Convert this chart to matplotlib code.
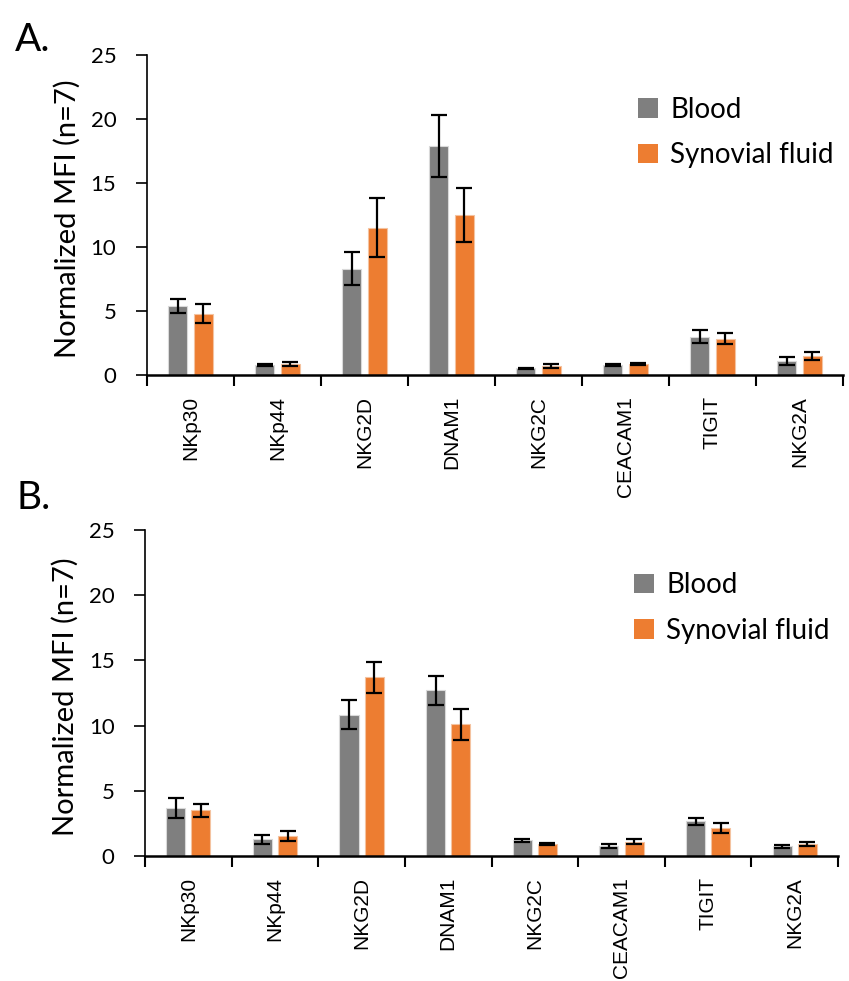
import matplotlib
matplotlib.use("Agg")
import matplotlib.pyplot as plt
import numpy as np
from matplotlib.patches import Patch

categories = ["NKp30", "NKp44", "NKG2D", "DNAM1", "NKG2C", "CEACAM1", "TIGIT", "NKG2A"]

# panel A
a_blood = [5.4, 0.78, 8.3, 17.9, 0.52, 0.8, 3.0, 1.1]
a_blood_err = [0.55, 0.1, 1.3, 2.4, 0.05, 0.1, 0.5, 0.3]
a_syn = [4.8, 0.86, 11.5, 12.5, 0.73, 0.86, 2.85, 1.5]
a_syn_err = [0.75, 0.12, 2.3, 2.1, 0.15, 0.1, 0.45, 0.3]

# panel B
b_blood = [3.7, 1.28, 10.85, 12.7, 1.2, 0.8, 2.65, 0.75]
b_blood_err = [0.75, 0.35, 1.1, 1.1, 0.12, 0.15, 0.3, 0.1]
b_syn = [3.5, 1.56, 13.7, 10.1, 0.92, 1.1, 2.15, 0.95]
b_syn_err = [0.5, 0.38, 1.2, 1.2, 0.06, 0.2, 0.4, 0.15]

GRAY = "#7f7f7f"
ORANGE = "#ed7d31"
FONT = "Lato"


def draw_panel(ax, blood, blood_err, syn, syn_err):
   x = np.arange(len(categories)) + 0.5
   w = 0.22
   ekw = dict(ecolor="black", elinewidth=1.6, capsize=6, capthick=1.6)
   ax.bar(x - 0.145, blood, w, color=GRAY, edgecolor="#d9d9d9", linewidth=0.8,
          yerr=blood_err, error_kw=ekw, label="Blood")
   ax.bar(x + 0.145, syn, w, color=ORANGE, edgecolor="#f4c3a0", linewidth=0.8,
          yerr=syn_err, error_kw=ekw, label="Synovial fluid")
   ax.set_xlim(0, len(categories))
   ax.set_ylim(0, 25)
   ax.set_yticks([0, 5, 10, 15, 20, 25])
   ax.set_xticks(np.arange(len(categories) + 1))
   ax.set_xticklabels([])
   ax.set_xticks(x, minor=True)
   ax.set_xticklabels(categories, minor=True, rotation=90, fontsize=15,
                      family="Liberation Sans")
   ax.tick_params(axis="x", which="major", length=8, width=1.5, direction="out")
   ax.tick_params(axis="x", which="minor", length=0, pad=15)
   ax.tick_params(axis="y", length=8, width=1.2, pad=14)
   for t in ax.get_yticklabels():
      t.set_fontsize(16)
      t.set_family(FONT)
   for s in ["top", "right"]:
      ax.spines[s].set_visible(False)
   ax.spines["left"].set_linewidth(1.2)
   ax.spines["bottom"].set_linewidth(1.8)
   ax.set_ylabel("Normalized MFI (n=7)", fontsize=21, family=FONT)
   ax.yaxis.set_label_coords(-0.095, 0.49)
   handles = [Patch(facecolor=GRAY, label="Blood"),
              Patch(facecolor=ORANGE, label="Synovial fluid")]
   ax.legend(handles=handles, loc="upper left", bbox_to_anchor=(0.69, 0.905),
             frameon=False, prop={"family": FONT, "size": 20},
             handlelength=0.7, handleheight=0.7, handletextpad=0.45,
             labelspacing=0.7, borderaxespad=0)


fig = plt.figure(figsize=(8.49, 9.81), dpi=100)
ax1 = fig.add_axes([0.1731, 0.6177, 0.8198, 0.3262])
ax2 = fig.add_axes([0.1708, 0.1274, 0.8163, 0.3323])
draw_panel(ax1, a_blood, a_blood_err, a_syn, a_syn_err)
draw_panel(ax2, b_blood, b_blood_err, b_syn, b_syn_err)

fig.text(15 / 849, 1 - 40 / 981, "A.", fontsize=28, family=FONT, ha="left", va="center")
fig.text(17 / 849, 1 - 498 / 981, "B.", fontsize=28, family=FONT, ha="left", va="center")

fig.savefig("out.png", dpi=100)
